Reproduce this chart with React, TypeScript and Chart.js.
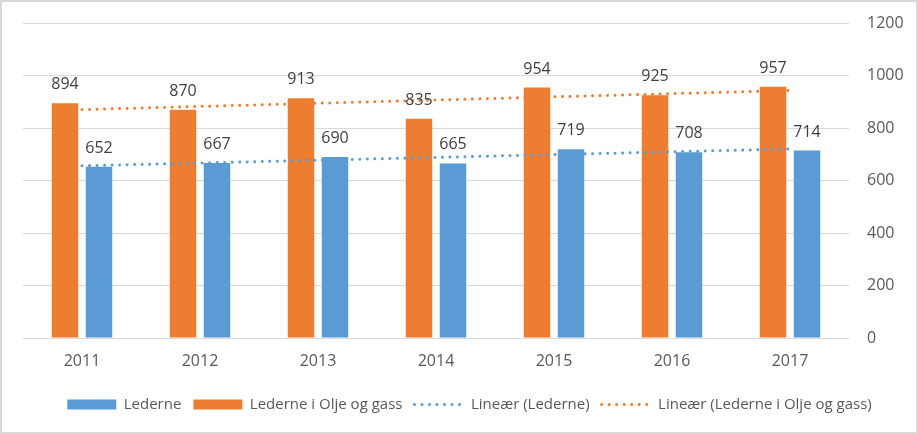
import React, { useEffect, useRef } from "react";
import { Chart, registerables } from "chart.js";

Chart.register(...registerables);

const years = ["2011", "2012", "2013", "2014", "2015", "2016", "2017"];
const lederne = [652, 667, 690, 665, 719, 708, 714];
const oljeGass = [894, 870, 913, 835, 954, 925, 957];
// Trend line endpoints (first and last category)
const trendLederne = [656, null, null, null, null, null, 720];
const trendOljeGass = [870, null, null, null, null, null, 943];
const yTicks = [0, 200, 400, 600, 800, 1000, 1200];

const BLUE = "#5b9bd5";
const ORANGE = "#ed7d31";
const FONT = "'Open Sans', 'Noto Sans', sans-serif";

const valueLabels = {
  id: "valueLabels",
  afterDatasetsDraw(chart: any) {
    const ctx = chart.ctx;
    chart.data.datasets.forEach((ds: any, i: number) => {
      if (ds.type === "line") return;
      const meta = chart.getDatasetMeta(i);
      meta.data.forEach((bar: any, j: number) => {
        ctx.save();
        ctx.font = `16px ${FONT}`;
        ctx.fillStyle = "#404040";
        ctx.textAlign = "center";
        ctx.textBaseline = "alphabetic";
        ctx.fillText(String(ds.data[j]), bar.x, bar.y - 14);
        ctx.restore();
      });
    });
  },
};

export default function App() {
  const ref = useRef<HTMLCanvasElement>(null);
  useEffect(() => {
    document.body.style.margin = "0";
    const chart = new Chart(ref.current!, {
      type: "bar",
      data: {
        labels: years,
        datasets: [
          {
            label: "Lederne",
            data: lederne,
            backgroundColor: BLUE,
            borderWidth: 0,
            order: 2,
          } as any,
          {
            label: "Lederne i Olje og gass",
            data: oljeGass,
            backgroundColor: ORANGE,
            borderWidth: 0,
            order: 1,
          } as any,
          {
            type: "line",
            label: "Lineær (Lederne)",
            data: trendLederne,
            borderColor: BLUE,
            borderWidth: 3,
            borderDash: [0.01, 7.5],
            borderCapStyle: "round",
            pointRadius: 0,
            spanGaps: true,
            order: 0,
          } as any,
          {
            type: "line",
            label: "Lineær (Lederne i Olje og gass)",
            data: trendOljeGass,
            borderColor: ORANGE,
            borderWidth: 3,
            borderDash: [0.01, 7.5],
            borderCapStyle: "round",
            pointRadius: 0,
            spanGaps: true,
            order: 0,
          } as any,
        ],
      },
      options: {
        animation: false,
        responsive: false,
        maintainAspectRatio: false,
        layout: { padding: { left: 21, top: 21, right: 0, bottom: 10 } },
        datasets: {
          bar: { categoryPercentage: 0.576, barPercentage: 0.78 },
        },
        scales: {
          x: {
            grid: { display: false, drawTicks: false },
            border: { display: false },
            ticks: { color: "#595959", font: { family: FONT, size: 16 }, padding: 14 },
            afterFit: (s: any) => {
              s.height = 47;
              s.paddingLeft = 0;
              s.paddingRight = 0;
            },
          },
          y: {
            position: "right",
            min: 0,
            max: 1200,
            afterBuildTicks: (s: any) => {
              s.ticks = yTicks.map((v) => ({ value: v }));
            },
            grid: { color: "#d9d9d9", lineWidth: 1, drawTicks: false },
            border: { display: false },
            ticks: {
              color: "#595959",
              font: { family: FONT, size: 16 },
              padding: 18,
              callback: (v: any) => String(v),
            },
            afterFit: (s: any) => {
              s.width = 67;
              s.paddingTop = 0;
              s.paddingBottom = 0;
            },
          },
        },
        plugins: {
          tooltip: { enabled: false },
          legend: {
            position: "bottom",
            labels: {
              color: "#595959",
              font: { family: FONT, size: 15 },
              usePointStyle: true,
              pointStyleWidth: 49,
              boxHeight: 10,
              padding: 12,
              generateLabels: (c: any) =>
                c.data.datasets.map((ds: any, i: number) => ({
                  text: ds.label,
                  fillStyle: ds.type === "line" ? "rgba(0,0,0,0)" : ds.backgroundColor,
                  strokeStyle: ds.type === "line" ? ds.borderColor : ds.backgroundColor,
                  lineWidth: ds.type === "line" ? 3 : 0,
                  lineDash: ds.type === "line" ? ds.borderDash : [],
                  lineCap: ds.type === "line" ? "round" : "butt",
                  pointStyle: ds.type === "line" ? "line" : "rect",
                  hidden: false,
                  datasetIndex: i,
                  fontColor: "#595959",
                })),
            },
          },
        },
      },
      plugins: [valueLabels],
    });
    return () => chart.destroy();
  }, []);
  return (
    <div
      style={{
        position: "absolute",
        left: 0,
        top: 0,
        width: 918,
        height: 434,
        boxSizing: "border-box",
        border: "2px solid #d9d9d9",
        background: "#fff",
      }}
    >
      <canvas ref={ref} width={914} height={430} style={{ display: "block" }} />
    </div>
  );
}
